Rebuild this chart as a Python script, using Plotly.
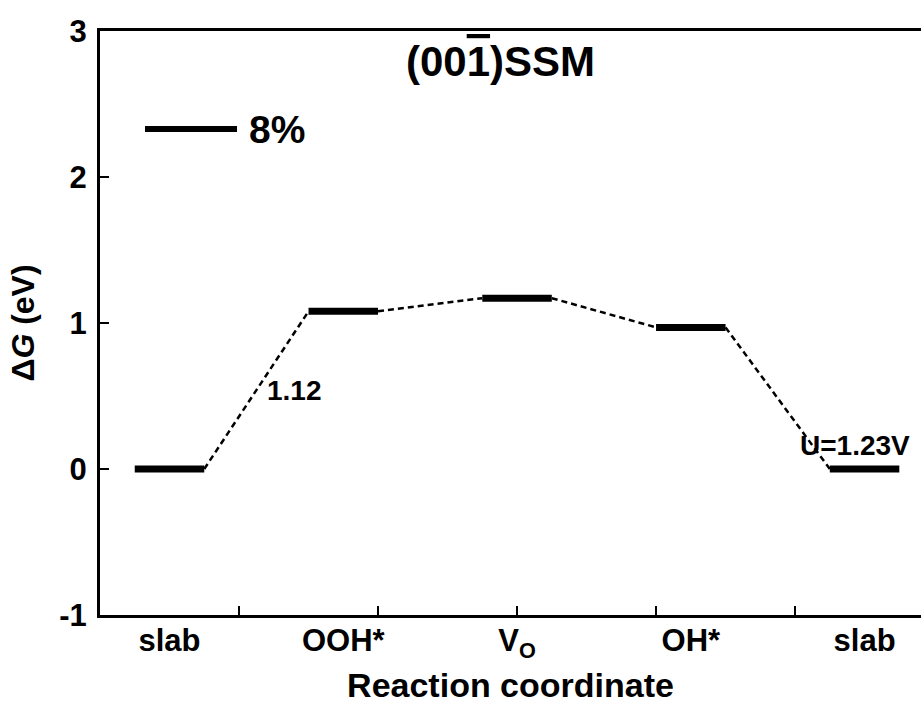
import plotly.graph_objects as go

# ---- data ----
states = ["slab", "OOH*", "V<sub>O</sub>", "OH*", "slab"]
state_pos = [0.5, 1.75, 3.0, 4.25, 5.5]
energies = [0.0, 1.08, 1.17, 0.97, 0.0]
half_width = 0.25
divider_ticks = [1, 2, 3, 4, 5]
y_ticks = [-1, 0, 1, 2, 3]
y_tick_text = ["-1", "0", "1", "2", "3"]

FONT = "Liberation Sans, Arial, sans-serif"

# level segments
lx, ly = [], []
for p, e in zip(state_pos, energies):
    lx += [p - half_width, p + half_width, None]
    ly += [e, e, None]

# dashed connectors
cx, cy = [], []
for i in range(len(state_pos) - 1):
    cx += [state_pos[i] + half_width, state_pos[i + 1] - half_width, None]
    cy += [energies[i], energies[i + 1], None]

fig = go.Figure()
fig.add_trace(go.Scatter(x=cx, y=cy, mode="lines",
                         line=dict(color="black", width=2.5, dash="6px,4px"),
                         showlegend=False, hoverinfo="skip"))
fig.add_trace(go.Scatter(x=lx, y=ly, mode="lines",
                         line=dict(color="black", width=7),
                         name="8%", showlegend=False))

fig.update_layout(
    width=921, height=704,
    margin=dict(l=100, r=0, t=31, b=89),
    paper_bgcolor="white", plot_bgcolor="white",
    font=dict(family=FONT, color="black"),
    xaxis=dict(
        range=[0, 5.906], showgrid=False, zeroline=False, automargin=False,
        showline=True, linecolor="black", linewidth=3, mirror=True,
        tickmode="array", tickvals=state_pos, ticktext=states,
        ticks="", ticklabelstandoff=-4,
        tickfont=dict(size=31, family=FONT, weight="bold"),
        minor=dict(tickmode="array", tickvals=divider_ticks, ticks="inside",
                   ticklen=9, tickwidth=2, tickcolor="black", showgrid=False),
        title=dict(text="Reaction coordinate", standoff=18,
                   font=dict(size=34, family=FONT, weight="bold")),
    ),
    yaxis=dict(
        range=[-1, 3], showgrid=False, zeroline=False, automargin=False,
        showline=True, linecolor="black", linewidth=3, mirror=False,
        tickmode="array", tickvals=y_ticks, ticktext=y_tick_text,
        ticks="inside", ticklen=9, tickwidth=2, tickcolor="black",
        ticklabelstandoff=4,
        tickfont=dict(size=31, family=FONT, weight="bold"),
        title=dict(text="Δ<i>G</i> (eV)", standoff=16,
                   font=dict(size=32, family=FONT, weight="bold")),
    ),
)

# title
fig.add_annotation(
    xref="paper", yref="paper", x=0.488, y=0.947,
    text="(00<span style='text-decoration:overline'>1</span>)SSM",
    showarrow=False, xanchor="center", yanchor="middle",
    font=dict(size=42, family=FONT, weight="bold"))

# legend sample
fig.add_shape(type="line", xref="paper", yref="paper",
              x0=0.0548, x1=0.1669, y0=0.832, y1=0.832,
              line=dict(color="black", width=6))
fig.add_annotation(xref="paper", yref="paper", x=0.179, y=0.832,
                   text="8%", showarrow=False, xanchor="left", yanchor="middle",
                   font=dict(size=39, family=FONT, weight="bold"))

# value labels
fig.add_annotation(x=1.40, y=0.54, text="1.12", showarrow=False,
                   font=dict(size=28, family=FONT, weight="bold"))
fig.add_annotation(x=5.43, y=0.16, text="U=1.23V", showarrow=False,
                   font=dict(size=28, family=FONT, weight="bold"))

fig.write_html("out.html",
               config={"displayModeBar": False},
               post_script="document.body.style.margin='0';"
                           "document.body.style.overflow='hidden';")
